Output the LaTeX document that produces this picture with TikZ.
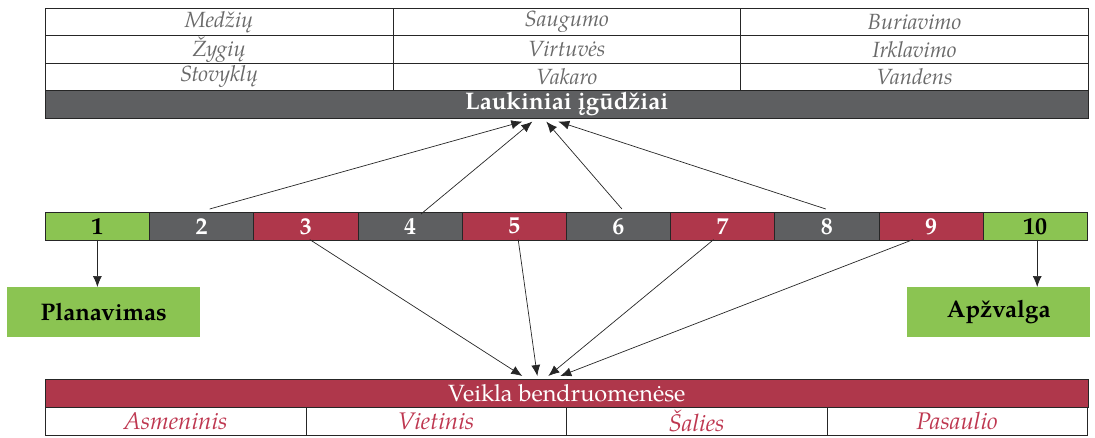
\documentclass[tikz,border=0pt]{standalone}
\usepackage{fontspec}
\setmainfont{TeX Gyre Pagella}
\usetikzlibrary{arrows.meta,calc}
\definecolor{cgreen}{RGB}{139,196,82}
\definecolor{cgray}{RGB}{94,95,97}
\definecolor{cred}{RGB}{175,55,75}
\definecolor{ctxt}{RGB}{105,105,105}
\definecolor{cbtxt}{RGB}{190,55,80}
\begin{document}
\begin{tikzpicture}[x=1pt,y=-1pt,
  box/.style={draw=black!85,line width=0.6pt,inner sep=0pt,anchor=north west,align=center},
  topcell/.style={box,minimum width=347.67pt,minimum height=27.33pt,text=ctxt,font=\fontsize{22}{24}\selectfont\itshape},
  numcell/.style={box,minimum width=104.2pt,minimum height=28pt,font=\fontsize{24}{26}\selectfont\bfseries},
  gcell/.style={numcell,fill=cgreen,text=black},
  dcell/.style={numcell,fill=cgray,text=white},
  rcell/.style={numcell,fill=cred,text=white},
  botcell/.style={box,minimum width=260.5pt,minimum height=28pt,text=cbtxt,font=\fontsize{24}{26}\selectfont\itshape},
  greenbox/.style={fill=cgreen,inner sep=0pt,anchor=north west,font=\fontsize{24}{26}\selectfont\bfseries},
  arr/.style={draw=black!85,line width=0.7pt,-{Latex[length=11pt,width=9pt]}}]
\useasboundingbox (0,0) rectangle (1095,437);
% top table
\node[topcell] (m1) at (45,8) {Medžių};
\node[topcell] (m2) at (392.67,8) {Saugumo};
\node[topcell] (m3) at (740.33,8) {Buriavimo};
\node[topcell] (z1) at (45,35.33) {Žygių};
\node[topcell] (z2) at (392.67,35.33) {Virtuvės};
\node[topcell] (z3) at (740.33,35.33) {Irklavimo};
\node[topcell] (s1) at (45,62.67) {Stovyklų};
\node[topcell] (s2) at (392.67,62.67) {Vakaro};
\node[topcell] (s3) at (740.33,62.67) {Vandens};
\node[box,fill=cgray,text=white,minimum width=1043pt,minimum height=28pt,font=\fontsize{24}{26}\selectfont\bfseries] (bar) at (45,90) {Laukiniai įgūdžiai};
% middle row
\node[gcell] (c1) at (45,212) {1};
\node[dcell] (c2) at (149.2,212) {2};
\node[rcell] (c3) at (253.4,212) {3};
\node[dcell] (c4) at (357.6,212) {4};
\node[rcell] (c5) at (461.8,212) {5};
\node[dcell] (c6) at (566,212) {6};
\node[rcell] (c7) at (670.2,212) {7};
\node[dcell] (c8) at (774.4,212) {8};
\node[rcell] (c9) at (878.6,212) {9};
\node[gcell] (c10) at (982.8,212) {10};
% side boxes
\node[greenbox,minimum width=193pt,minimum height=50pt] (plan) at (7,287) {Planavimas};
\node[greenbox,minimum width=183pt,minimum height=50pt] (apz) at (907,287) {Apžvalga};
% bottom table
\node[box,fill=cred,text=white,minimum width=1043pt,minimum height=28pt,font=\fontsize{23.5}{25}\selectfont] (bbar) at (45,379) {Veikla bendruomenėse};
\node[botcell] (b1) at (45,407) {Asmeninis};
\node[botcell] (b2) at (305.5,407) {Vietinis};
\node[botcell] (b3) at (566,407) {Šalies};
\node[botcell] (b4) at (826.5,407) {Pasaulio};
% arrow targets
\coordinate (t1) at ($(bar.south)+(-44.5,3)$);
\coordinate (t2) at ($(bar.south)+(-34.5,3)$);
\coordinate (t3) at ($(bar.south)+(-20.5,3)$);
\coordinate (t4) at ($(bar.south)+(-8.5,3)$);
\coordinate (u1) at ($(bbar.north)+(-44.5,-3)$);
\coordinate (u2) at ($(bbar.north)+(-29.5,-3)$);
\coordinate (u3) at ($(bbar.north)+(-18.5,-3)$);
\coordinate (u4) at ($(bbar.north)+(-6.5,-3)$);
% arrows up
\draw[arr] ($(c2.north)+(8,-3)$) -- (t1);
\draw[arr] ($(c4.north)+(11,2)$) -- (t2);
\draw[arr] ($(c6.north)+(3.5,-3)$) -- (t3);
\draw[arr] ($(c8.north)+(-1,-3)$) -- (t4);
% arrows down
\draw[arr] ($(c3.south)+(4,-1)$) -- (u1);
\draw[arr] ($(c5.south)+(4,-1)$) -- (u2);
\draw[arr] ($(c7.south)+(-9,-1)$) -- (u3);
\draw[arr] ($(c9.south)+(-18,-1)$) -- (u4);
% side arrows
\draw[arr] ($(c1.south)+(0,-1)$) -- (c1.south |- plan.north);
\draw[arr] ($(c10.south)+(2,-1)$) -- ($(c10.south |- apz.north)+(2,0)$);
\end{tikzpicture}
\end{document}
